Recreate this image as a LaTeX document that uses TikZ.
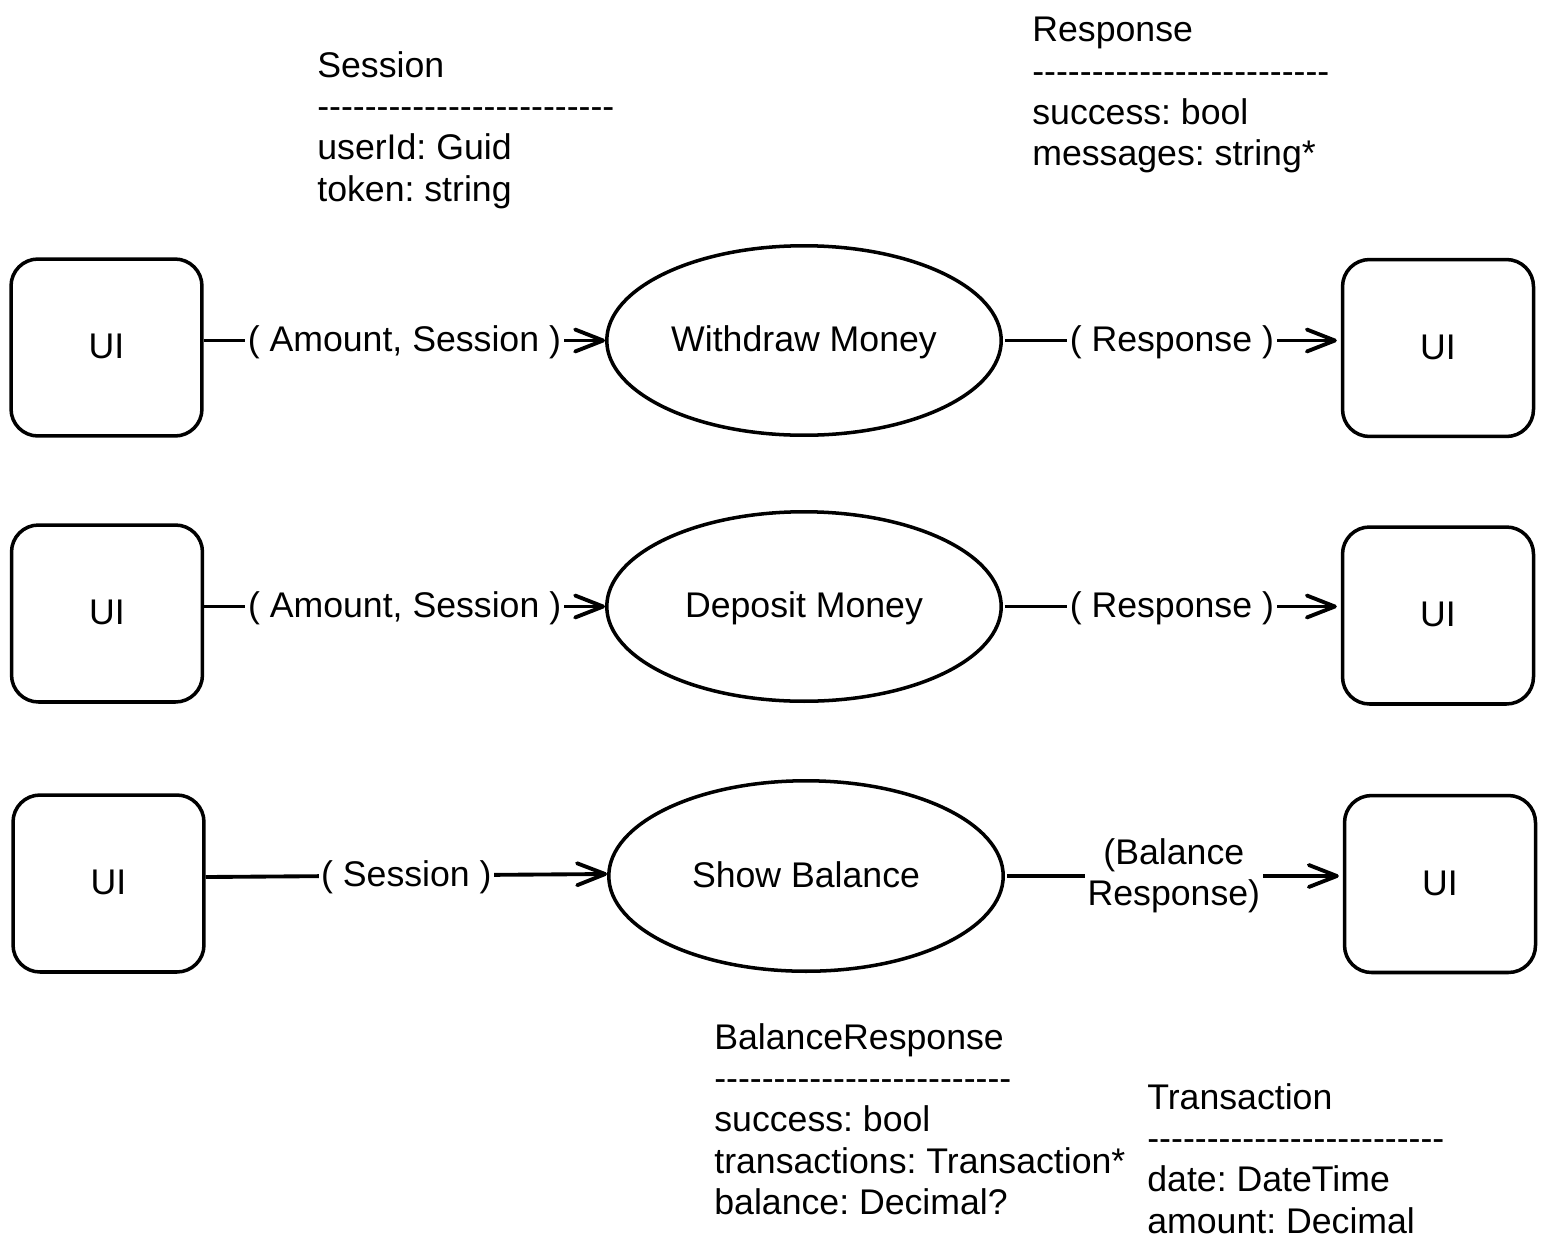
\documentclass[tikz,border=0pt]{standalone}
\usepackage{fontspec}
\setmainfont{Liberation Sans}[Ligatures=TeXOff]
\usetikzlibrary{arrows.meta,shapes.geometric}
\begin{document}
\begin{tikzpicture}[x=0.02cm,y=-0.02cm,
  every node/.style={font=\fontsize{20.3pt}{23.5pt}\selectfont\frenchspacing},
  centred/.style={text height=18.1pt,text depth=5.1pt},
  uibox/.style={draw,centred,line width=2pt,rounded corners=0.54cm,minimum width=3.82cm,minimum height=3.54cm,inner sep=0pt},
  process/.style={draw,centred,ellipse,line width=2pt,minimum width=7.89cm,minimum height=3.79cm,inner sep=0pt},
  flow/.style={line width=2.2pt,-{Straight Barb[length=0.56cm,width=0.44cm,line width=2.2pt,round]}},
  gapped/.style={shorten <=0.04cm,shorten >=0.08cm},
  flowlabel/.style={fill=white,inner sep=1.5pt,align=center},
  datablock/.style={anchor=north west,inner sep=0pt,align=left}
]
\useasboundingbox (0,0) rectangle (1547,1251);

% row 1
\node[uibox] (ui1l) at (106.5,347.5) {UI};
\node[process] (p1) at (804,340.5) {Withdraw Money};
\node[uibox] (ui1r) at (1438,348) {UI};
% row 2
\node[uibox] (ui2l) at (107,613.5) {UI};
\node[process] (p2) at (804,606.5) {Deposit Money};
\node[uibox] (ui2r) at (1438,615.5) {UI};
% row 3
\node[uibox] (ui3l) at (108.5,883.5) {UI};
\node[process,minimum height=3.81cm] (p3) at (806,876) {Show Balance};
\node[uibox] (ui3r) at (1440,884) {UI};

% connectors
\draw[flow] (ui1l.east |- p1.west) -- node[flowlabel,centred] (l1a) {( Amount, Session )} (p1.west);
\draw[flow,gapped] (p1.east) -- node[flowlabel,centred] (l1b) {( Response )} (p1.east -| ui1r.west);
\draw[flow] (ui2l.east |- p2.west) -- node[flowlabel,centred] (l2a) {( Amount, Session )} (p2.west);
\draw[flow,gapped] (p2.east) -- node[flowlabel,centred] (l2b) {( Response )} (p2.east -| ui2r.west);
\draw[flow] ([yshift=0.13cm]ui3l.east) -- node[flowlabel,centred] (l3a) {( Session )} ([yshift=0.04cm]p3.west);
\draw[flow,gapped] (p3.east) -- node[flowlabel] (l3b) {(Balance\\Response)} (p3.east -| ui3r.west);

% data definitions
\node[datablock] (session) at (317,51) {Session\\-------------------------\\userId: Guid\\token: string};
\node[datablock] (response) at (1032,17) {Response\\-------------------------\\success: bool\\messages: string*};
\node[datablock] (balresp) at (714,1023) {BalanceResponse\\-------------------------\\success: bool\\transactions: Transaction*\\balance: Decimal?};
\node[datablock] (trans) at (1147,1083) {Transaction\\-------------------------\\date: DateTime\\amount: Decimal};
\end{tikzpicture}
\end{document}
